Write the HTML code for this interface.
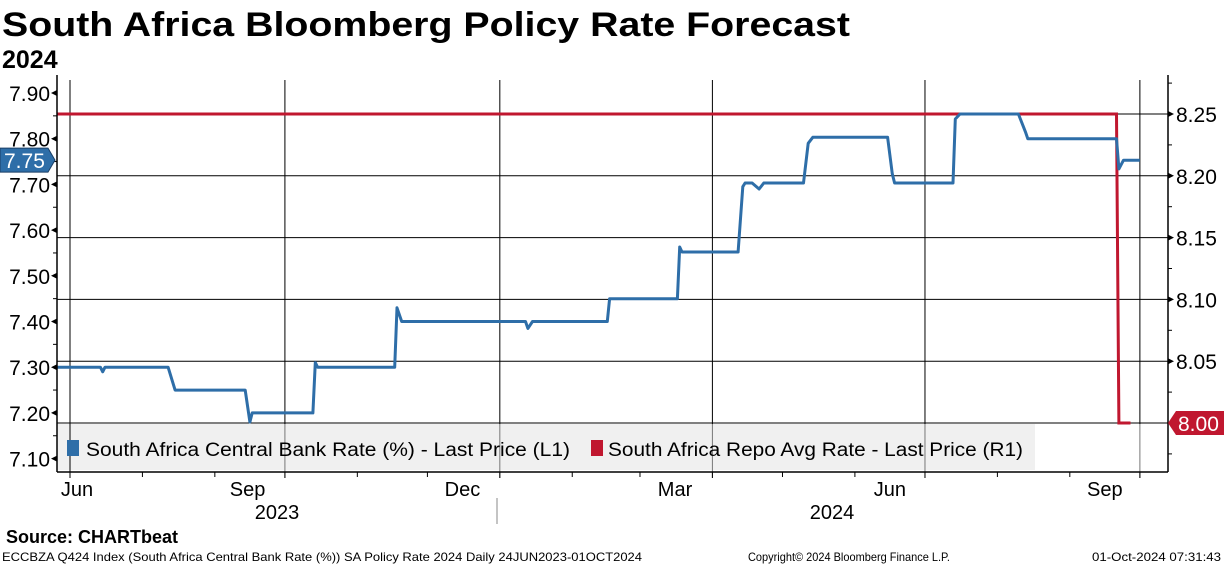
<!DOCTYPE html>
<html><head><meta charset="utf-8"><style>
html,body{margin:0;padding:0;background:#fff;}
svg{display:block;font-family:"Liberation Sans",sans-serif;}
</style></head><body>
<svg id="chart" width="1224" height="566" viewBox="0 0 1224 566" xmlns="http://www.w3.org/2000/svg">
<text x="2" y="36" font-size="34" font-weight="bold" textLength="848" lengthAdjust="spacingAndGlyphs">South Africa Bloomberg Policy Rate Forecast</text>
<text x="2" y="68" font-size="25" font-weight="bold">2024</text>
<g id="grid"></g>
<rect x="57" y="424" width="978" height="46" fill="#f0f0f0"/>
<g id="vgrid"></g>
<rect x="67" y="440" width="12" height="16" fill="#2e6ea8"/>
<text x="86" y="456" font-size="19" textLength="484" lengthAdjust="spacingAndGlyphs">South Africa Central Bank Rate (%) - Last Price (L1)</text>
<rect x="591" y="440" width="12" height="16" fill="#c0172f"/>
<text x="608" y="456" font-size="19" textLength="415" lengthAdjust="spacingAndGlyphs">South Africa Repo Avg Rate - Last Price (R1)</text>
<g id="series"></g>
<g id="axes"></g>
<text x="6" y="543" font-size="18" font-weight="bold">Source: CHARTbeat</text>
<text x="2" y="561" font-size="12" textLength="640" lengthAdjust="spacingAndGlyphs">ECCBZA Q424 Index (South Africa Central Bank Rate (%)) SA Policy Rate 2024  Daily 24JUN2023-01OCT2024</text>
<text x="748" y="561" font-size="12" textLength="202" lengthAdjust="spacingAndGlyphs">Copyright© 2024 Bloomberg Finance L.P.</text>
<text x="1092" y="561" font-size="12" textLength="129" lengthAdjust="spacingAndGlyphs">01-Oct-2024 07:31:43</text>
</svg>
<script>
const blueDates=["2023-06-24","2023-07-14","2023-07-15","2023-07-16","2023-08-12","2023-08-15","2023-09-14","2023-09-16","2023-09-17","2023-10-13","2023-10-14","2023-10-15","2023-11-17","2023-11-18","2023-11-20","2024-01-12","2024-01-13","2024-01-15","2024-02-16","2024-02-17","2024-03-17","2024-03-18","2024-03-19","2024-04-12","2024-04-14","2024-04-15","2024-04-18","2024-04-21","2024-04-23","2024-05-10","2024-05-12","2024-05-14","2024-06-15","2024-06-17","2024-06-18","2024-07-13","2024-07-14","2024-07-16","2024-08-10","2024-08-13","2024-08-14","2024-09-21","2024-09-22","2024-09-24","2024-10-01"];
const blueValues=[7.30,7.30,7.29,7.30,7.30,7.25,7.25,7.18,7.20,7.20,7.31,7.30,7.30,7.43,7.40,7.40,7.385,7.40,7.40,7.45,7.45,7.563,7.552,7.552,7.695,7.703,7.703,7.69,7.703,7.703,7.79,7.803,7.803,7.723,7.703,7.703,7.843,7.854,7.854,7.815,7.80,7.80,7.734,7.753,7.753];
const redDates=["2023-06-24","2024-09-21","2024-09-22","2024-09-27"];
const redValues=[8.25,8.25,8.00,8.00];
const leftTicks=["7.90","7.80","7.70","7.60","7.50","7.40","7.30","7.20","7.10"];
const rightTicks=["8.25","8.20","8.15","8.10","8.05"];
const monthLabels=["Jun","Sep","Dec","Mar","Jun","Sep"];
const monthLabelDates=["2023-06-28","2023-09-15","2023-12-16","2024-03-16","2024-06-16","2024-09-16"];
const yearLabels=["2023","2024"];

const NS="http://www.w3.org/2000/svg";
const L=57,R=1168,T=80,B=472;
const t0=Date.UTC(2023,6,1);
function x(ds){const p=ds.split("-");return 70+(Date.UTC(+p[0],+p[1]-1,+p[2])-t0)/864e5*2.336;}
function yL(v){return 93+(7.90-v)*457;}
function yR(v){return 114+(8.25-v)*1236;}
function mk(tag,attrs,parent){const e=document.createElementNS(NS,tag);for(const k in attrs)e.setAttribute(k,attrs[k]);parent.appendChild(e);return e;}
const grid=document.getElementById("grid"),vgrid=document.getElementById("vgrid"),series=document.getElementById("series"),axes=document.getElementById("axes");
rightTicks.concat(["8.00"]).forEach(t=>{const l=mk("line",{x1:L,x2:R,y1:yR(+t),y2:yR(+t),stroke:"#000","stroke-width":1},grid);

});
["2023-07-01","2023-10-01","2024-01-01","2024-04-01","2024-07-01","2024-10-01"].forEach((d,i)=>{
const l=mk("line",{x1:x(d),x2:x(d),y1:T,y2:424,stroke:"#000","stroke-width":1},grid);


const l2=mk("line",{x1:x(d),x2:x(d),y1:424,y2:B+6,stroke:i==0?"#000":"#777","stroke-width":1},vgrid);

});
function path(ds,vs,fy){return ds.map((d,i)=>(i?"L":"M")+Math.max(L,x(d)).toFixed(1)+","+fy(vs[i]).toFixed(1)).join("");}
const rp=mk("path",{d:path(redDates,redValues,yR),fill:"none",stroke:"#c0172f","stroke-width":3},series);


const bp=mk("path",{d:path(blueDates,blueValues,yL),fill:"none",stroke:"#2e6ea8","stroke-width":3,"stroke-linejoin":"round"},series);


[[L,75,L,B],[R,75,R,B],[L,B,R,B]].forEach(a=>{const l=mk("line",{x1:a[0],y1:a[1],x2:a[2],y2:a[3],stroke:"#000","stroke-width":1.5},axes);

});
for(let v=7.10;v<=7.901;v+=0.05){const yy=yL(v);mk("line",{x1:L-4,x2:L,y1:yy,y2:yy,stroke:"#000"},axes);}
leftTicks.forEach(t=>{const yy=yL(+t);
mk("path",{d:`M${L-6},${yy}L${L},${yy-3}L${L},${yy+3}Z`,fill:"#000"},axes);
const tx=mk("text",{x:L-7,y:yy+8,"font-size":21,"text-anchor":"end"},axes);tx.textContent=t;

});
for(let v=7.975;v<=8.2751;v+=0.025){const yy=yR(v);mk("line",{x1:R,x2:R+4,y1:yy,y2:yy,stroke:"#000"},axes);}
rightTicks.forEach(t=>{const yy=yR(+t);
mk("path",{d:`M${R+6},${yy}L${R},${yy-3}L${R},${yy+3}Z`,fill:"#000"},axes);
const tx=mk("text",{x:R+8,y:yy+8,"font-size":21},axes);tx.textContent=t;

});
const bt=mk("path",{d:`M0,${yL(7.753)-12}L48,${yL(7.753)-12}L55,${yL(7.753)}L48,${yL(7.753)+12}L0,${yL(7.753)+12}Z`,fill:"#2e6ea8",stroke:"#1a3f66"},axes);


const btx=mk("text",{x:4,y:yL(7.753)+8,"font-size":21,fill:"#fff"},axes);btx.textContent="7.75";


const y8=yR(8.00);
const rt=mk("path",{d:`M${R},${y8}L${R+8},${y8-12}L1224,${y8-12}L1224,${y8+12}L${R+8},${y8+12}Z`,fill:"#c0172f"},axes);


const rtx=mk("text",{x:R+10,y:y8+8,"font-size":21,fill:"#fff"},axes);rtx.textContent="8.00";


for(let m=0;m<16;m++){const d=new Date(Date.UTC(2023,6+m,1));const ds=d.toISOString().slice(0,10);const xx=x(ds);if(xx>R)break;
mk("line",{x1:xx,x2:xx,y1:B,y2:B+(m%3==0?6:5),stroke:"#000"},axes);}
monthLabels.forEach((m,i)=>{const xx=Math.max(77,x(monthLabelDates[i]));
const tx=mk("text",{x:xx,y:496,"font-size":20,"text-anchor":"middle"},axes);tx.textContent=m;

});
[[277,yearLabels[0]],[832,yearLabels[1]]].forEach(a=>{const tx=mk("text",{x:a[0],y:519,"font-size":20,"text-anchor":"middle"},axes);tx.textContent=a[1];

});
const ys=mk("line",{x1:497,x2:497,y1:498,y2:524,stroke:"#888"},axes);


</script>
</body></html>
